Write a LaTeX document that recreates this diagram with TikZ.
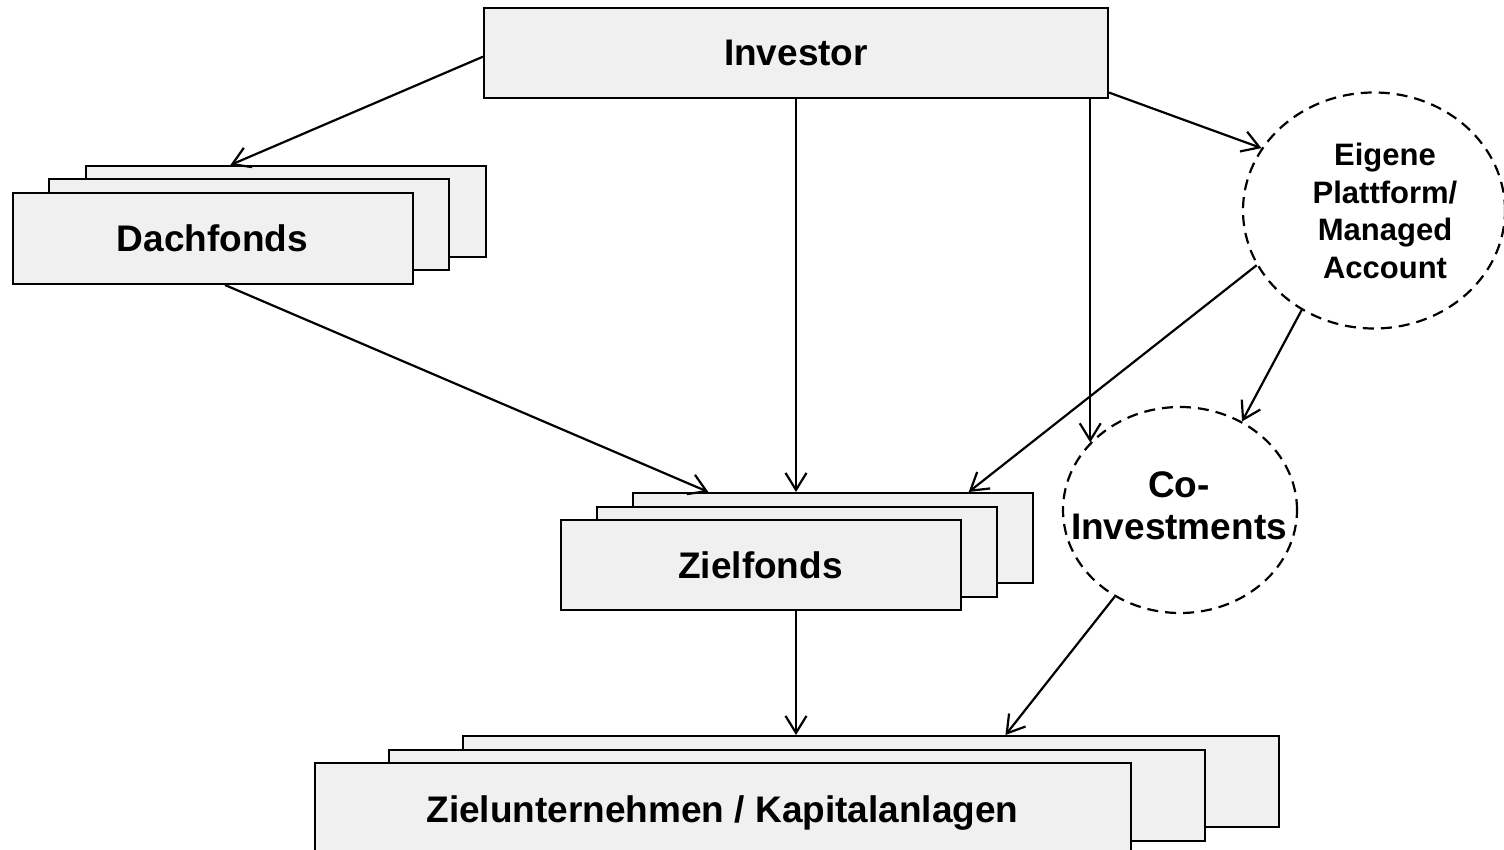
\documentclass[tikz,border=0pt]{standalone}
\usepackage{fontspec}
\setmainfont{Liberation Sans}
\usetikzlibrary{arrows.meta,shapes.geometric,calc}
\definecolor{cardfill}{HTML}{F0F0F0}
\begin{document}
\begin{tikzpicture}[x=1pt,y=-1pt,
  card/.style={draw, fill=cardfill, line width=2pt, inner sep=0pt,
    font=\fontsize{37}{44}\selectfont\bfseries},
  topcard/.style={card, minimum width=624pt, minimum height=90pt},
  fundcard/.style={card, minimum width=400pt, minimum height=91pt},
  assetcard/.style={card, minimum width=816pt, minimum height=91pt},
  bubble/.style={ellipse, draw, line width=2.2pt, inner sep=0pt,
    dash pattern=on 11pt off 7pt},
  bubbletext/.style={align=center, inner sep=0pt},
  link/.style={line width=2.2pt, -{Straight Barb[length=17pt,width=21pt]}}]

\useasboundingbox (0,0) rectangle (1504,850);

% investor
\node[topcard] (inv) at (796,53) {Investor};

% fund of funds stack
\node[fundcard] (dfb) at (285.5,211.5) {};
\node[fundcard] (dfm) at (249,224.5) {};
\node[fundcard] (df)  at (212.5,238.5) {Dachfonds};

% target funds stack
\node[fundcard, minimum height=90pt] (zfb) at (833,538) {};
\node[fundcard, minimum height=90pt] (zfm) at (797,551.5) {};
\node[fundcard, minimum height=90pt] (zf)  at (760.5,565) {Zielfonds};

% portfolio companies stack
\node[assetcard] (zub) at (870.5,781.5) {};
\node[assetcard] (zum) at (796.5,795.5) {};
\node[assetcard, text height=31pt, text depth=4pt] (zu) at (722.5,808.5)
  {Zielunternehmen / Kapitalanlagen};

% own platform / managed account
\node[bubble, minimum width=262pt, minimum height=236pt] (ep) at (1374,210.5) {};
\node[bubbletext, font=\fontsize{31}{37.5}\selectfont\bfseries] (eptext) at (1385,211)
  {Eigene\\Plattform/\\Managed\\Account};

% co-investments
\node[bubble, minimum width=234pt, minimum height=206pt] (coi) at (1180,510) {};
\node[bubbletext, font=\fontsize{37}{42}\selectfont\bfseries] (coitext) at (1179,506)
  {Co-\\Investments};

% flows
\draw[link] ($(inv.north west)!0.54!(inv.south west)$) -- ($(dfb.north west)!0.363!(dfb.north east)$);
\draw[link] (inv.south) -- (inv.south |- zfb.north);
\draw[link] (coi.143 |- inv.south) -- (coi.143);
\draw[link] ($(inv.north east)!0.93!(inv.south east)$) -- (ep.151.6);
\draw[link] ($(df.south west)!0.531!(df.south east)$) -- ($(zfb.north west)!0.19!(zfb.north east)$);
\draw[link] (ep.205.6) -- ($(zfb.north west)!0.8375!(zfb.north east)$);
\draw[link] (ep.234) -- (coi.55.7);
\draw[link] (zf.south -| inv.south) -- (zub.north -| inv.south);
\draw[link] (coi.233.3) -- ($(zub.north west)!0.665!(zub.north east)$);
\end{tikzpicture}
\end{document}
